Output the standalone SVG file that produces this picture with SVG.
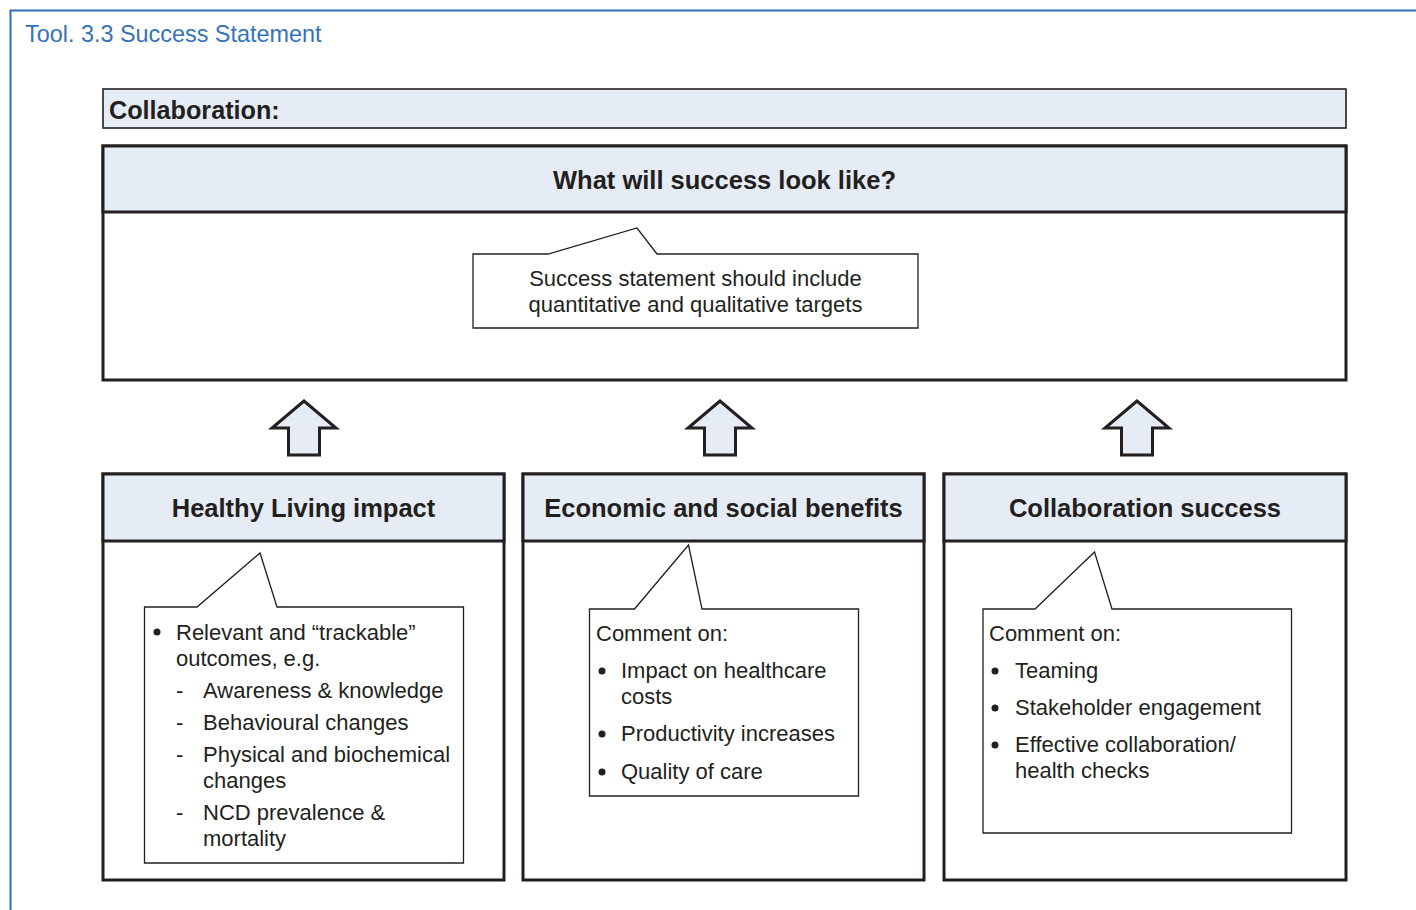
<svg xmlns="http://www.w3.org/2000/svg" width="1416" height="910" viewBox="0 0 1416 910">
<style>
.frame{fill:none;stroke:#2f6db5;stroke-width:2}
.title{font-family:"Liberation Sans",Arial,sans-serif;font-size:23.4px;fill:#3572b9}
.band{fill:#e6ecf6;stroke:#231f20;stroke-width:3}
.box{fill:#ffffff;stroke:#231f20;stroke-width:3}
.thin{fill:#e6ecf6;stroke:#231f20;stroke-width:1.6}
.call{fill:#ffffff;stroke:#231f20;stroke-width:1.3}
.arrow{fill:#e6ecf6;stroke:#231f20;stroke-width:3;stroke-linejoin:miter}
.h{font-family:"Liberation Sans",Arial,sans-serif;font-weight:bold;font-size:25.5px;fill:#231f20;text-anchor:middle}
.hl{font-family:"Liberation Sans",Arial,sans-serif;font-weight:bold;font-size:25.2px;fill:#231f20}
.t{font-family:"Liberation Sans",Arial,sans-serif;font-size:22px;fill:#231f20}
.c{text-anchor:middle}
.dot{fill:#231f20}
</style>
<path class="frame" d="M10.5,910 V10.5 H1416"/>
<text class="title" x="25" y="42">Tool. 3.3 Success Statement</text>

<g id="collaboration">
<rect class="thin" x="103" y="89" width="1243" height="39"/>
<text class="hl" x="109" y="118.5">Collaboration:</text>
</g>

<g id="success">
<rect class="box" x="103" y="146" width="1243" height="234"/>
<rect class="band" x="103" y="146" width="1243" height="66"/>
<text class="h" x="724.5" y="189">What will success look like?</text>
<path class="call" d="M473,254 H548 L637,228 L657,254 H918 V328 H473 Z"/>
<text class="t c" x="695.5" y="286">Success statement should include</text>
<text class="t c" x="695.5" y="312">quantitative and qualitative targets</text>
</g>

<g id="connectors">
<path class="arrow" d="M304,401 L272,428 H288.5 V455 H319.5 V428 H336 Z"/>
<path class="arrow" d="M720,401 L688,428 H704.5 V455 H735.5 V428 H752 Z"/>
<path class="arrow" d="M1137,401 L1105,428 H1121.5 V455 H1152.5 V428 H1169 Z"/>
</g>

<g id="healthy-living">
<rect class="box" x="103" y="474" width="401" height="406"/>
<rect class="band" x="103" y="474" width="401" height="67"/>
<text class="h" x="303.5" y="517">Healthy Living impact</text>
<path class="call" d="M144.5,607 H197 L260,553 L277,607 H463.5 V863 H144.5 Z"/>
<circle class="dot" cx="157" cy="632" r="3.5"/>
<text class="t" x="176" y="640">Relevant and “trackable”</text>
<text class="t" x="176" y="666">outcomes, e.g.</text>
<text class="t" x="176" y="698">-</text>
<text class="t" x="203" y="698">Awareness &amp; knowledge</text>
<text class="t" x="176" y="730">-</text>
<text class="t" x="203" y="730">Behavioural changes</text>
<text class="t" x="176" y="762">-</text>
<text class="t" x="203" y="762">Physical and biochemical</text>
<text class="t" x="203" y="788">changes</text>
<text class="t" x="176" y="820">-</text>
<text class="t" x="203" y="820">NCD prevalence &amp;</text>
<text class="t" x="203" y="846">mortality</text>
</g>

<g id="economic-social">
<rect class="box" x="523" y="474" width="401" height="406"/>
<rect class="band" x="523" y="474" width="401" height="67"/>
<text class="h" x="723.5" y="517">Economic and social benefits</text>
<path class="call" d="M589.5,609 H634.5 L688.5,545 L702,609 H858.5 V796 H589.5 Z"/>
<text class="t" x="596" y="641">Comment on:</text>
<circle class="dot" cx="602" cy="671" r="3.5"/>
<text class="t" x="621" y="678">Impact on healthcare</text>
<text class="t" x="621" y="704">costs</text>
<circle class="dot" cx="602" cy="734" r="3.5"/>
<text class="t" x="621" y="741">Productivity increases</text>
<circle class="dot" cx="602" cy="772" r="3.5"/>
<text class="t" x="621" y="779">Quality of care</text>
</g>

<g id="collaboration-success">
<rect class="box" x="944" y="474" width="402" height="406"/>
<rect class="band" x="944" y="474" width="402" height="67"/>
<text class="h" x="1145" y="517">Collaboration success</text>
<path class="call" d="M983,609 H1035 L1094.5,552 L1112,609 H1291.5 V833 H983 Z"/>
<text class="t" x="989" y="641">Comment on:</text>
<circle class="dot" cx="995" cy="671" r="3.5"/>
<text class="t" x="1015" y="678">Teaming</text>
<circle class="dot" cx="995" cy="708" r="3.5"/>
<text class="t" x="1015" y="715">Stakeholder engagement</text>
<circle class="dot" cx="995" cy="745" r="3.5"/>
<text class="t" x="1015" y="752">Effective collaboration/</text>
<text class="t" x="1015" y="778">health checks</text>
</g>
</svg>
